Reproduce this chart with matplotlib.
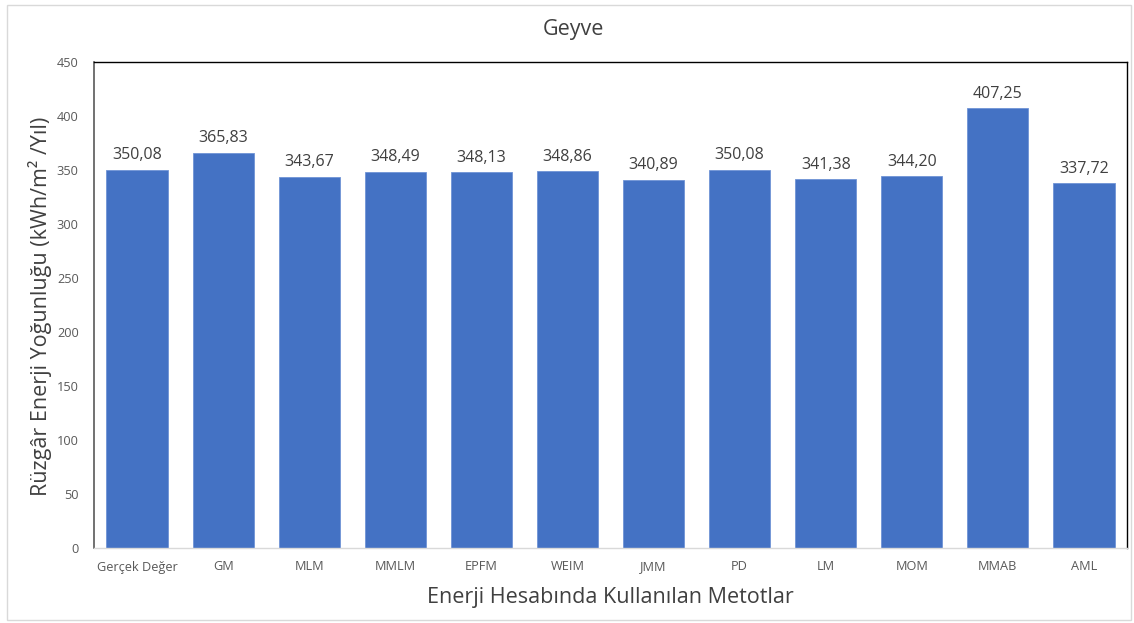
import matplotlib
matplotlib.use("Agg")
import matplotlib.pyplot as plt
from matplotlib.patches import Rectangle

categories = ["Gerçek Değer", "GM", "MLM", "MMLM", "EPFM", "WEIM", "JMM", "PD", "LM", "MOM", "MMAB", "AML"]
values = [350.08, 365.83, 343.67, 348.49, 348.13, 348.86, 340.89, 350.08, 341.38, 344.20, 407.25, 337.72]
yticks = [0, 50, 100, 150, 200, 250, 300, 350, 400, 450]

plt.rcParams['font.family'] = ['Open Sans', 'DejaVu Sans']

fig = plt.figure(figsize=(11.34, 6.23), dpi=100)
ax = fig.add_axes([94/1134, 1-548/623, (1127-94)/1134, (548-62)/623])

x = list(range(len(categories)))
bars = ax.bar(x, values, width=0.71, color="#4472C4", edgecolor="#6F94D6", linewidth=0.6, zorder=2)
for xi, v in zip(x, values):
    ax.text(xi, v + 6, f"{v:.2f}".replace(".", ","), ha="center", va="bottom",
            fontsize=11.5, color="#404040")

ax.set_xlim(-0.5, len(categories) - 0.5)
ax.set_ylim(0, 450)
ax.set_yticks(yticks)
ax.set_xticks(x)
ax.set_xticklabels(categories, fontsize=9.2, color="#595959")
ax.tick_params(axis="y", labelsize=9.2, labelcolor="#595959", length=0, pad=11)
ax.tick_params(axis="x", length=0, pad=9)

for s in ["top", "right"]:
    ax.spines[s].set_color("black")
    ax.spines[s].set_linewidth(1.0)
ax.spines["left"].set_color("#595959")
ax.spines["left"].set_linewidth(1.2)
ax.spines["bottom"].set_color("#D9D9D9")
ax.spines["bottom"].set_linewidth(1.0)

fig.text(573/1134, 1-30/623, "Geyve", ha="center", va="center", fontsize=15.5, color="#404040")
fig.text(610/1134, 1-597/623, "Enerji Hesabında Kullanılan Metotlar", ha="center", va="center",
         fontsize=15.5, color="#404040")
fig.text(40/1134, 1-306/623, "Rüzgâr Enerji Yoğunluğu (kWh/m² /Yıl)", ha="center", va="center",
         rotation=90, fontsize=15.5, color="#404040")

fig.patches.append(Rectangle((7/1134, 3/623), (1131-7)/1134, (618-3)/623, transform=fig.transFigure,
                             fill=False, edgecolor="#D9D9D9", linewidth=1.0))

fig.savefig("out.png", dpi=100)
